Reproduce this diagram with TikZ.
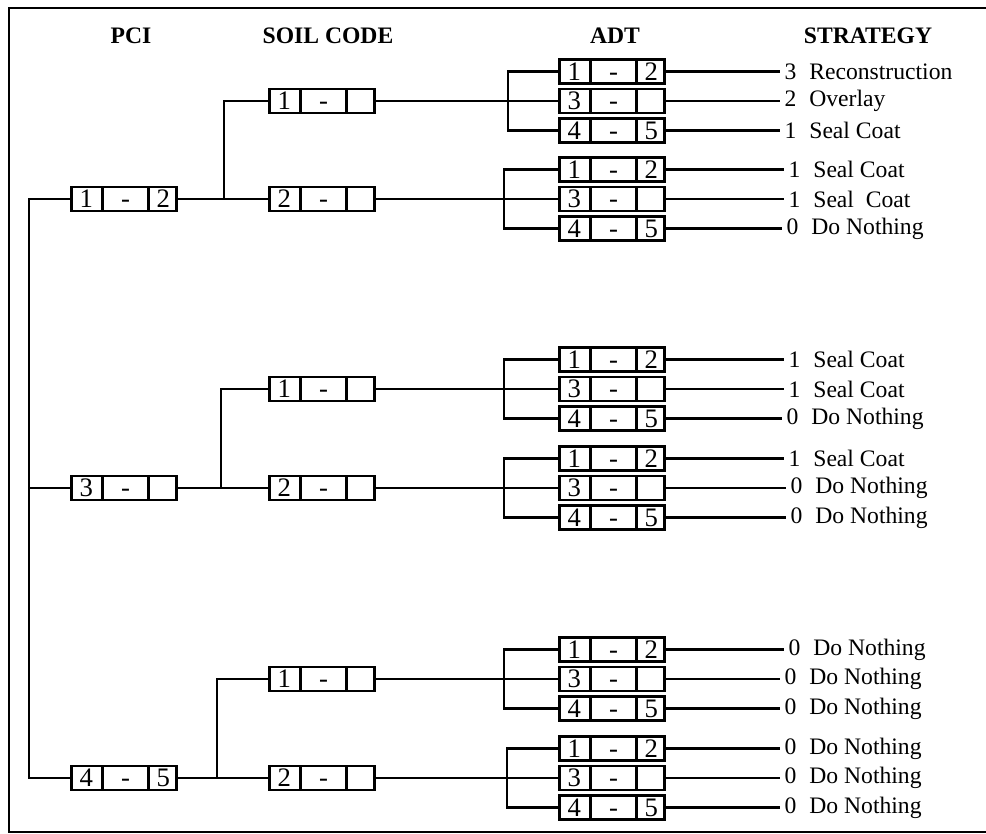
\documentclass[tikz,border=0pt]{standalone}
\usepackage{fontspec}
\setmainfont{Liberation Serif}
\usetikzlibrary{positioning,shapes.multipart}

\newcommand{\tri}[3]{\makebox[0.75cm]{\vphantom{0}#1}\nodepart{two}\makebox[1.075cm]{\vphantom{0}#2}\nodepart{three}\makebox[0.675cm]{\vphantom{0}#3}}
\newcommand{\outcome}[2]{#1\hspace{0.55em}#2}

\begin{document}
\begin{tikzpicture}[x=0.025cm, y=-0.025cm, node distance=0.74cm]
    \tikzset{
      codebox/.style = {rectangle split, rectangle split horizontal, rectangle split parts=3, draw=black, line width=1.9pt, inner xsep=0pt, inner ysep=2.2pt, fill=white, font=\fontsize{19}{20}\selectfont},
      header/.style = {font=\fontsize{16.8}{18}\selectfont\bfseries},
      stratlabel/.style = {anchor=west, inner xsep=3pt, inner ysep=0pt, font=\fontsize{16.8}{18}\selectfont},
      link/.style = {line width=1.6pt}
    }
    \useasboundingbox (0,0) rectangle (986,834);
    \draw [line width=2pt] (986,8) -- (9,8) -- (9,832) -- (986,832);

    \node (hdr_pci) [header] at (131,36) {PCI};
    \node (hdr_soil) [header] at (328,36) {SOIL CODE};
    \node (hdr_adt) [header] at (615,36) {ADT};
    \node (hdr_strategy) [header] at (868,36) {STRATEGY};

    \node (pci_a) [codebox] at (124,199) {\tri{1}{-}{2}};
    \node (pci_b) [codebox] at (124,488) {\tri{3}{-}{}};
    \node (pci_c) [codebox] at (124,778) {\tri{4}{-}{5}};

    \node (soil_a1) [codebox] at (322,101) {\tri{1}{-}{}};
    \node (soil_a2) [codebox] at (322,199) {\tri{2}{-}{}};
    \node (soil_b1) [codebox] at (322,389) {\tri{1}{-}{}};
    \node (soil_b2) [codebox] at (322,488) {\tri{2}{-}{}};
    \node (soil_c1) [codebox] at (322,679) {\tri{1}{-}{}};
    \node (soil_c2) [codebox] at (322,778) {\tri{2}{-}{}};

    \node (adt_a1_2) [codebox] at (612,101) {\tri{3}{-}{}};
    \node (adt_a1_1) [codebox, above of=adt_a1_2] {\tri{1}{-}{2}};
    \node (adt_a1_3) [codebox, below of=adt_a1_2] {\tri{4}{-}{5}};
    \node (adt_a2_2) [codebox] at (612,199) {\tri{3}{-}{}};
    \node (adt_a2_1) [codebox, above of=adt_a2_2] {\tri{1}{-}{2}};
    \node (adt_a2_3) [codebox, below of=adt_a2_2] {\tri{4}{-}{5}};
    \node (adt_b1_2) [codebox] at (612,389) {\tri{3}{-}{}};
    \node (adt_b1_1) [codebox, above of=adt_b1_2] {\tri{1}{-}{2}};
    \node (adt_b1_3) [codebox, below of=adt_b1_2] {\tri{4}{-}{5}};
    \node (adt_b2_2) [codebox] at (612,488) {\tri{3}{-}{}};
    \node (adt_b2_1) [codebox, above of=adt_b2_2] {\tri{1}{-}{2}};
    \node (adt_b2_3) [codebox, below of=adt_b2_2] {\tri{4}{-}{5}};
    \node (adt_c1_2) [codebox] at (612,679) {\tri{3}{-}{}};
    \node (adt_c1_1) [codebox, above of=adt_c1_2] {\tri{1}{-}{2}};
    \node (adt_c1_3) [codebox, below of=adt_c1_2] {\tri{4}{-}{5}};
    \node (adt_c2_2) [codebox] at (612,778) {\tri{3}{-}{}};
    \node (adt_c2_1) [codebox, above of=adt_c2_2] {\tri{1}{-}{2}};
    \node (adt_c2_3) [codebox, below of=adt_c2_2] {\tri{4}{-}{5}};

    \node (str_a1_1) [stratlabel, right=2.85cm of adt_a1_1] {\outcome{3}{Reconstruction}};
    \node (str_a1_2) [stratlabel, right=2.85cm of adt_a1_2] {\outcome{2}{Overlay}};
    \node (str_a1_3) [stratlabel, right=2.85cm of adt_a1_3] {\outcome{1}{Seal Coat}};
    \node (str_a2_1) [stratlabel, right=2.95cm of adt_a2_1] {\outcome{1}{Seal Coat}};
    \node (str_a2_2) [stratlabel, right=2.95cm of adt_a2_2] {\outcome{1}{Seal\hspace{0.5em}Coat}};
    \node (str_a2_3) [stratlabel, right=2.9cm of adt_a2_3] {\outcome{0}{Do Nothing}};
    \node (str_b1_1) [stratlabel, right=2.95cm of adt_b1_1] {\outcome{1}{Seal Coat}};
    \node (str_b1_2) [stratlabel, right=2.95cm of adt_b1_2] {\outcome{1}{Seal Coat}};
    \node (str_b1_3) [stratlabel, right=2.9cm of adt_b1_3] {\outcome{0}{Do Nothing}};
    \node (str_b2_1) [stratlabel, right=2.95cm of adt_b2_1] {\outcome{1}{Seal Coat}};
    \node (str_b2_2) [stratlabel, right=3cm of adt_b2_2] {\outcome{0}{Do Nothing}};
    \node (str_b2_3) [stratlabel, right=3cm of adt_b2_3] {\outcome{0}{Do Nothing}};
    \node (str_c1_1) [stratlabel, right=2.95cm of adt_c1_1] {\outcome{0}{Do Nothing}};
    \node (str_c1_2) [stratlabel, right=2.85cm of adt_c1_2] {\outcome{0}{Do Nothing}};
    \node (str_c1_3) [stratlabel, right=2.85cm of adt_c1_3] {\outcome{0}{Do Nothing}};
    \node (str_c2_1) [stratlabel, right=2.85cm of adt_c2_1] {\outcome{0}{Do Nothing}};
    \node (str_c2_2) [stratlabel, right=2.85cm of adt_c2_2] {\outcome{0}{Do Nothing}};
    \node (str_c2_3) [stratlabel, right=2.85cm of adt_c2_3] {\outcome{0}{Do Nothing}};

    % PCI bus on the left
    \draw [link] (pci_a.west) -- ++(-41,0) |- (pci_c.west);
    \draw [link] (pci_b.west) -- ++(-41,0);

    % PCI -> soil code
    \draw [link] (pci_a.east) -- (soil_a2.west);
    \draw [link] (pci_a.east) -- ++(46,0) |- (soil_a1.west);
    \draw [link] (pci_b.east) -- (soil_b2.west);
    \draw [link] (pci_b.east) -- ++(43,0) |- (soil_b1.west);
    \draw [link] (pci_c.east) -- (soil_c2.west);
    \draw [link] (pci_c.east) -- ++(39,0) |- (soil_c1.west);

    % soil code -> ADT
    \draw [link] (soil_a1.east) -- (adt_a1_2.west);
    \draw [link] (adt_a1_1.west) -- ++(-50,0) |- (adt_a1_3.west);
    \draw [link] (soil_a2.east) -- (adt_a2_2.west);
    \draw [link] (adt_a2_1.west) -- ++(-54,0) |- (adt_a2_3.west);
    \draw [link] (soil_b1.east) -- (adt_b1_2.west);
    \draw [link] (adt_b1_1.west) -- ++(-54,0) |- (adt_b1_3.west);
    \draw [link] (soil_b2.east) -- (adt_b2_2.west);
    \draw [link] (adt_b2_1.west) -- ++(-54,0) |- (adt_b2_3.west);
    \draw [link] (soil_c1.east) -- (adt_c1_2.west);
    \draw [link] (adt_c1_1.west) -- ++(-54,0) |- (adt_c1_3.west);
    \draw [link] (soil_c2.east) -- (adt_c2_2.west);
    \draw [link] (adt_c2_1.west) -- ++(-51,0) |- (adt_c2_3.west);

    % ADT -> strategy
    \draw [link] (adt_a1_1.east) -- (str_a1_1.west);
    \draw [link] (adt_a1_2.east) -- (str_a1_2.west);
    \draw [link] (adt_a1_3.east) -- (str_a1_3.west);
    \draw [link] (adt_a2_1.east) -- (str_a2_1.west);
    \draw [link] (adt_a2_2.east) -- (str_a2_2.west);
    \draw [link] (adt_a2_3.east) -- (str_a2_3.west);
    \draw [link] (adt_b1_1.east) -- (str_b1_1.west);
    \draw [link] (adt_b1_2.east) -- (str_b1_2.west);
    \draw [link] (adt_b1_3.east) -- (str_b1_3.west);
    \draw [link] (adt_b2_1.east) -- (str_b2_1.west);
    \draw [link] (adt_b2_2.east) -- (str_b2_2.west);
    \draw [link] (adt_b2_3.east) -- (str_b2_3.west);
    \draw [link] (adt_c1_1.east) -- (str_c1_1.west);
    \draw [link] (adt_c1_2.east) -- (str_c1_2.west);
    \draw [link] (adt_c1_3.east) -- (str_c1_3.west);
    \draw [link] (adt_c2_1.east) -- (str_c2_1.west);
    \draw [link] (adt_c2_2.east) -- (str_c2_2.west);
    \draw [link] (adt_c2_3.east) -- (str_c2_3.west);
\end{tikzpicture}
\end{document}
